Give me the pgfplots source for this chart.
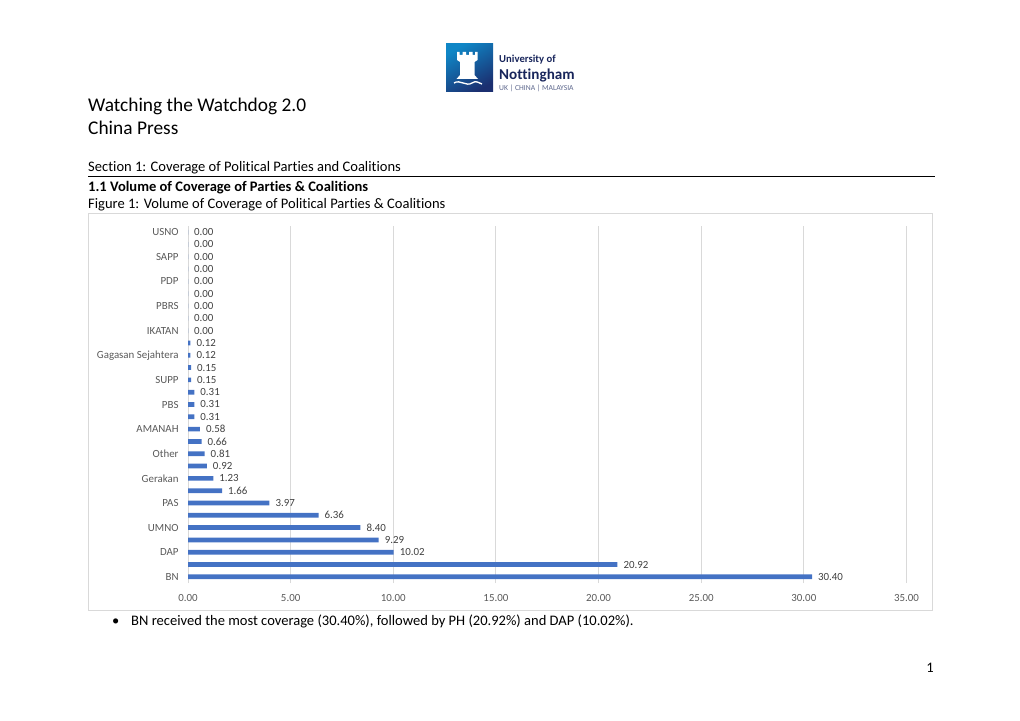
\documentclass[border=0pt]{standalone}
\usepackage{fontspec}
\setmainfont{Carlito}[Ligatures={NoCommon}]
\usepackage{pgfplots}
\pgfplotsset{compat=1.18}
\definecolor{barblue}{HTML}{4472C4}
\definecolor{gridgray}{HTML}{D9D9D9}
\definecolor{labgray}{HTML}{595959}
\definecolor{numgray}{HTML}{404040}
\definecolor{navy}{HTML}{18255B}
\definecolor{logoA}{HTML}{0F86C6}
\definecolor{logoB}{HTML}{1B2F70}
\begin{document}
\begin{tikzpicture}[x=0.82549pt,y=-0.82549pt]
\path[use as bounding box] (0,0) rectangle (1020,721);
% logo
\shade[top color=logoA, bottom color=logoB, shading angle=30] (446,44) rectangle (493,92);
\fill[white] (457,52) -- (459.5,52) -- (459.5,55) -- (462.5,55) -- (462.5,52) -- (466,52) -- (466,55) -- (469,55) -- (469,52) -- (472.5,52) -- (472.5,55) -- (475,55) -- (475,52) -- (477.5,52) -- (477.5,60) -- (474.5,62) -- (474.5,75) -- (478,79) -- (456.5,79) -- (460,75) -- (460,62) -- (457,60) -- cycle;
\draw[white, line width=1.1pt] (454,83) .. controls (460,79) and (466,87) .. (472,83) .. controls (476,80) and (479,83) .. (482,84);
\node[anchor=base west, inner sep=0, text=navy, font=\bfseries\fontsize{8.8}{10}\selectfont] at (499,63) {University of};
\node[anchor=base west, inner sep=0, text=navy, font=\bfseries\fontsize{12.5}{14}\selectfont] at (499,80) {Nottingham};
\node[anchor=base west, inner sep=0, text=navy!70, font=\fontsize{6.3}{7}\selectfont] at (499,90.5) {UK | CHINA | MALAYSIA};
% titles
\node[anchor=base west, inner sep=0, font=\fontsize{16}{19}\selectfont] at (88,111) {Watching the Watchdog 2.0};
\node[anchor=base west, inner sep=0, font=\fontsize{16}{19}\selectfont] at (88,134.5) {China Press};
\node[anchor=base west, inner sep=0, font=\fontsize{12}{14}\selectfont] at (88,171.5) {Section 1: Coverage of Political Parties and Coalitions};
\draw[black, line width=1.3pt] (88,176.5) -- (935,176.5);
\node[anchor=base west, inner sep=0, font=\bfseries\fontsize{12}{14}\selectfont] at (88,191) {1.1 Volume of Coverage of Parties \& Coalitions};
\node[anchor=base west, inner sep=0, font=\fontsize{12}{14}\selectfont] at (88,208) {Figure 1: Volume of Coverage of Political Parties \& Coalitions};
% chart box
\draw[gridgray, line width=0.8pt] (88,213) rectangle (932,610);
\coordinate (O) at (188,583);
\begin{axis}[
  at={(O)}, anchor=south west,
  scale only axis, width=593.1pt, height=294.7pt,
  xbar, bar width=3.9pt,
  xmin=0, xmax=35, ymin=-0.5, ymax=28.5,
  xtick={0,5,...,35},
  ytick={0,2,...,28},
  yticklabels={BN,DAP,UMNO,PAS,Gerakan,Other,AMANAH,PBS,SUPP,Gagasan Sejahtera,IKATAN,PBRS,PDP,SAPP,USNO},
  xmajorgrids, major grid style={gridgray, line width=0.8pt},
  axis line style={draw=none}, tick style={draw=none},
  /pgf/number format/fixed, /pgf/number format/fixed zerofill,
  /pgf/number format/precision=2, /pgf/number format/assume math mode=true,
  ticklabel style={font=\fontsize{9}{10}\selectfont, text=labgray},
  xticklabel style={yshift=-5.5pt},
  nodes near coords,
  every node near coord/.append style={font=\fontsize{9}{10}\selectfont, text=numgray, anchor=west, xshift=1.5pt},
  clip=false,
]
\addplot[fill=barblue, draw=none] coordinates {
(30.40,0) (20.92,1) (10.02,2) (9.29,3) (8.40,4) (6.36,5) (3.97,6) (1.66,7)
(1.23,8) (0.92,9) (0.81,10) (0.66,11) (0.58,12) (0.31,13) (0.31,14) (0.31,15)
(0.15,16) (0.15,17) (0.12,18) (0.12,19) (0.00,20) (0.00,21) (0.00,22) (0.00,23)
(0.00,24) (0.00,25) (0.00,26) (0.00,27) (0.00,28)};
\end{axis}
% bullet text
\node[anchor=base west, inner sep=0, font=\fontsize{12}{14}\selectfont] at (112,625) {\textbullet};
\node[anchor=base west, inner sep=0, font=\fontsize{12}{14}\selectfont] at (131,625) {BN received the most coverage (30.40\%), followed by PH (20.92\%) and DAP (10.02\%).};
\node[anchor=base east, inner sep=0, font=\fontsize{12}{14}\selectfont] at (934,672) {1};
\end{tikzpicture}
\end{document}
